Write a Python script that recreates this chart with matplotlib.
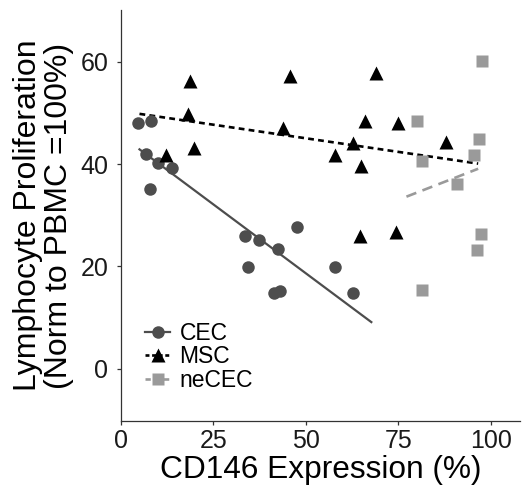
import numpy as np
import matplotlib.pyplot as plt
from matplotlib.lines import Line2D

plt.rcParams['font.family'] = ['Liberation Sans', 'DejaVu Sans']

# CD146 expression (%) and lymphocyte proliferation (% of PBMC) per sample
cec_x = [4.7, 8.0, 6.8, 10.1, 13.7, 7.8, 33.6, 37.4, 42.5, 47.6, 34.4, 41.4, 43.1, 57.9, 62.8]
cec_y = [48.1, 48.5, 42.0, 40.3, 39.3, 35.2, 25.9, 25.1, 23.4, 27.8, 19.8, 14.9, 15.2, 19.9, 14.9]

msc_x = [18.6, 18.0, 19.7, 12.3, 45.7, 43.9, 68.9, 65.9, 74.9, 62.8, 57.8, 64.9, 88.0, 64.6, 74.3]
msc_y = [56.2, 49.8, 43.2, 41.8, 57.3, 47.0, 57.7, 48.5, 48.0, 44.1, 41.8, 39.7, 44.4, 26.0, 26.8]

necec_x = [97.7, 80.1, 96.8, 95.5, 81.5, 91.0, 97.3, 96.3, 81.4]
necec_y = [60.2, 48.5, 44.9, 41.7, 40.6, 36.2, 26.4, 23.3, 15.4]

# x span of each regression line
cec_fit_x = [5.0, 67.7]
msc_fit_x = [5.0, 96.6]
necec_fit_x = [77.2, 96.6]

cec_col = '#4d4d4d'
msc_col = 'black'
necec_col = '#9a9a9a'

fig = plt.figure(figsize=(5.22, 4.9), dpi=100)
ax = fig.add_axes([0.2318, 0.1408, 0.765, 0.8388])


def fit_line(x, y, span, **kw):
    slope, icpt = np.polyfit(x, y, 1)
    xs = np.array(span)
    ax.plot(xs, slope * xs + icpt, **kw)


fit_line(cec_x, cec_y, cec_fit_x, color=cec_col, lw=1.6, ls='-', zorder=2)
fit_line(msc_x, msc_y, msc_fit_x, color=msc_col, lw=1.9, ls=(0, (2.2, 1.6)), zorder=2)
fit_line(necec_x, necec_y, necec_fit_x, color=necec_col, lw=1.9, ls=(0, (4, 2.5)), zorder=2)

ax.plot(cec_x, cec_y, 'o', color=cec_col, ms=9, mec='none', zorder=3)
ax.plot(msc_x, msc_y, '^', color=msc_col, ms=10.5, mec='none', zorder=3)
ax.plot(necec_x, necec_y, 's', color=necec_col, ms=9, mec='none', zorder=3)

ax.set_xlim(0, 108)
ax.set_ylim(-10.2, 70.1)
ax.set_xticks([0, 25, 50, 75, 100])
ax.set_yticks([0, 20, 40, 60])

for side in ['top', 'right']:
    ax.spines[side].set_visible(False)
for side in ['left', 'bottom']:
    ax.spines[side].set_color('#333333')
    ax.spines[side].set_linewidth(0.9)

ax.tick_params(axis='both', length=3, width=0.9, color='#333333', labelsize=18, labelcolor='#1a1a1a')
ax.tick_params(axis='y', pad=6)
ax.tick_params(axis='x', pad=3)

ax.set_xlabel('CD146 Expression (%)', fontsize=22.8, labelpad=1)
ax.set_ylabel('Lymphocyte Proliferation\n(Norm to PBMC =100%)', fontsize=23, linespacing=1.02, labelpad=5)

handles = [
    Line2D([], [], color=cec_col, marker='o', ms=9, mec='none', ls='-', lw=1.6),
    Line2D([], [], color=msc_col, marker='^', ms=10.5, mec='none', ls=(0, (1.5, 1)), lw=1.9),
    Line2D([], [], color=necec_col, marker='s', ms=9, mec='none', ls=(0, (2, 1.5)), lw=1.9),
]
ax.legend(handles, ['CEC', 'MSC', 'neCEC'], loc='upper left', bbox_to_anchor=(0.02, 0.28),
          frameon=False, fontsize=16.5, handlelength=1.1, handletextpad=0.4,
          labelspacing=0.02, borderpad=0.2)

fig.savefig('out.png', dpi=100)
